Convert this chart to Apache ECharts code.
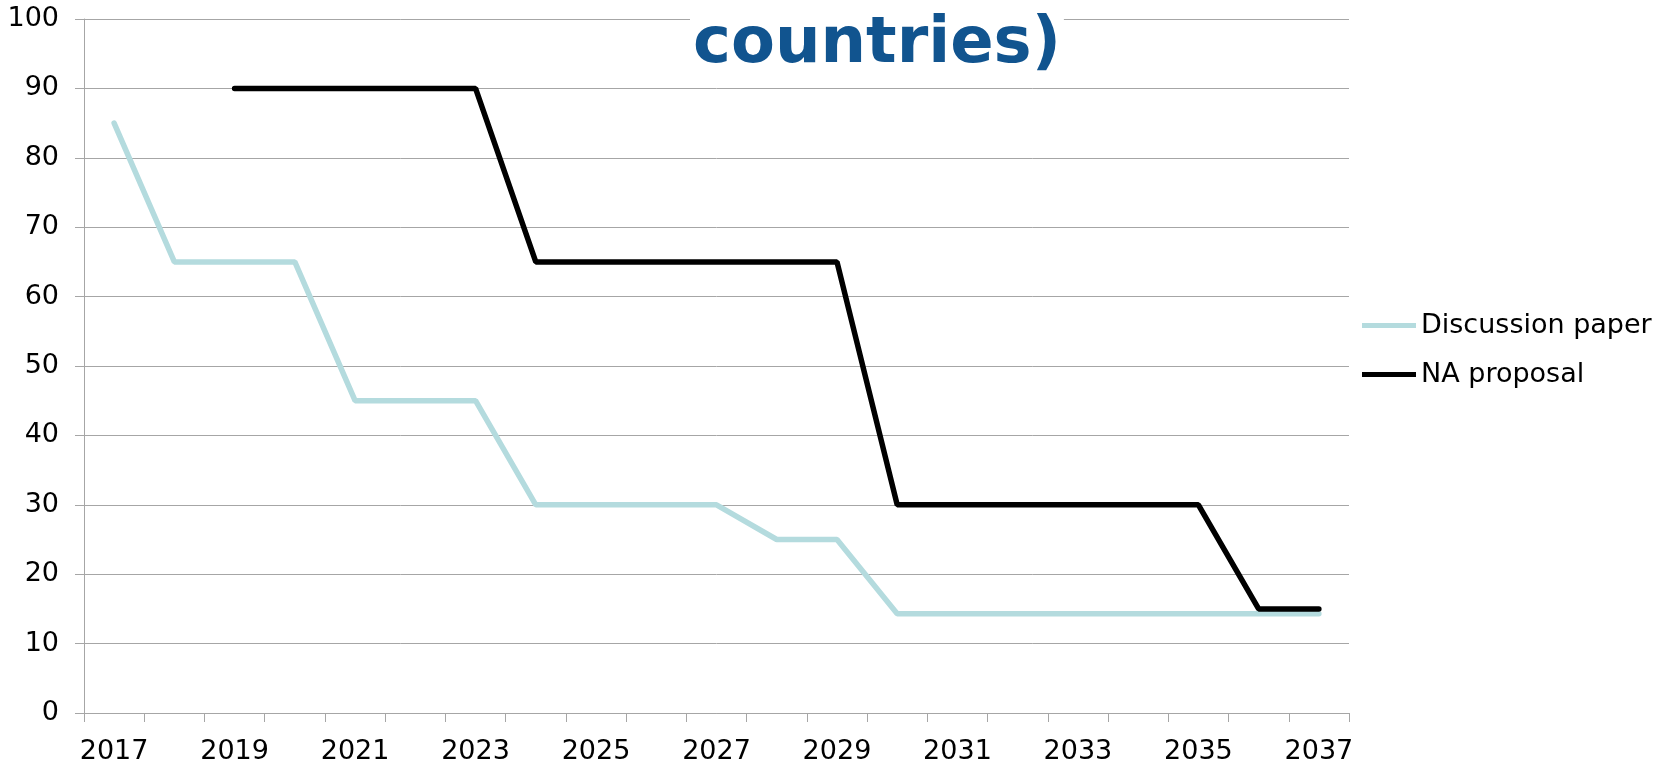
<!DOCTYPE html>
<html>
<head>
<meta charset="utf-8">
<script src="https://cdn.jsdelivr.net/npm/echarts@6/dist/echarts.min.js"></script>
<style>
  html, body { margin: 0; padding: 0; background: #fff; }
  #chart { width: 1667px; height: 765px; }
</style>
</head>
<body>
<div id="chart"></div>
<script>
  // data
  var years = ['2017','2018','2019','2020','2021','2022','2023','2024','2025','2026','2027',
               '2028','2029','2030','2031','2032','2033','2034','2035','2036','2037'];
  var discussionPaper = [85, 65, 65, 65, 45, 45, 45, 30, 30, 30, 30,
                         25, 25, 14.3, 14.3, 14.3, 14.3, 14.3, 14.3, 14.3, 14.3];
  var naProposal = [null, null, 90, 90, 90, 90, 90, 65, 65, 65, 65,
                    65, 65, 30, 30, 30, 30, 30, 30, 15, 15];
  var yTicks = { min: 0, max: 100, step: 10 };

  var font = 'Verdana, "DejaVu Sans", sans-serif';
  var gray = '#a6a6a6';

  var chart = echarts.init(document.getElementById('chart'));

  var option = {
    backgroundColor: '#fff',
    animation: false,
    title: {
      text: 'countries)',
      left: 690,
      top: 8,
      padding: [0, 3, 0, 3],
      backgroundColor: '#fff',
      textStyle: {
        fontFamily: font,
        fontWeight: 'bold',
        fontSize: 64,
        lineHeight: 74,
        color: '#11548f'
      }
    },
    legend: {
      orient: 'vertical',
      left: 1362,
      top: 312,
      padding: 0,
      itemGap: 22,
      itemWidth: 54,
      itemHeight: 5,
      icon: 'rect',
      textStyle: { fontFamily: font, fontSize: 27, color: '#000' },
      data: ['Discussion paper', 'NA proposal']
    },
    grid: { left: 84, right: 318, top: 19, bottom: 49, containLabel: false },
    xAxis: {
      type: 'category',
      data: years,
      boundaryGap: true,
      axisLine: { lineStyle: { color: gray, width: 1 } },
      axisTick: { show: true, length: 9, interval: 0, lineStyle: { color: gray } },
      axisLabel: { interval: 1, margin: 25, fontFamily: font, fontSize: 27, color: '#000' },
      splitLine: { show: false }
    },
    yAxis: {
      type: 'value',
      min: yTicks.min,
      max: yTicks.max,
      interval: yTicks.step,
      axisLine: { show: true, lineStyle: { color: gray, width: 1 } },
      axisTick: { show: true, length: 9, lineStyle: { color: gray } },
      axisLabel: { margin: 25, fontFamily: font, fontSize: 27, color: '#000' },
      splitLine: { show: true, lineStyle: { color: gray, width: 1 } }
    },
    series: [
      {
        name: 'Discussion paper',
        type: 'line',
        data: discussionPaper,
        symbol: 'none',
        color: '#b4dbde',
        lineStyle: { color: '#b4dbde', width: 5.5, cap: 'round' }
      },
      {
        name: 'NA proposal',
        type: 'line',
        data: naProposal,
        symbol: 'none',
        color: '#000',
        lineStyle: { color: '#000', width: 5.5, cap: 'round' }
      }
    ]
  };

  chart.setOption(option);
</script>
</body>
</html>
